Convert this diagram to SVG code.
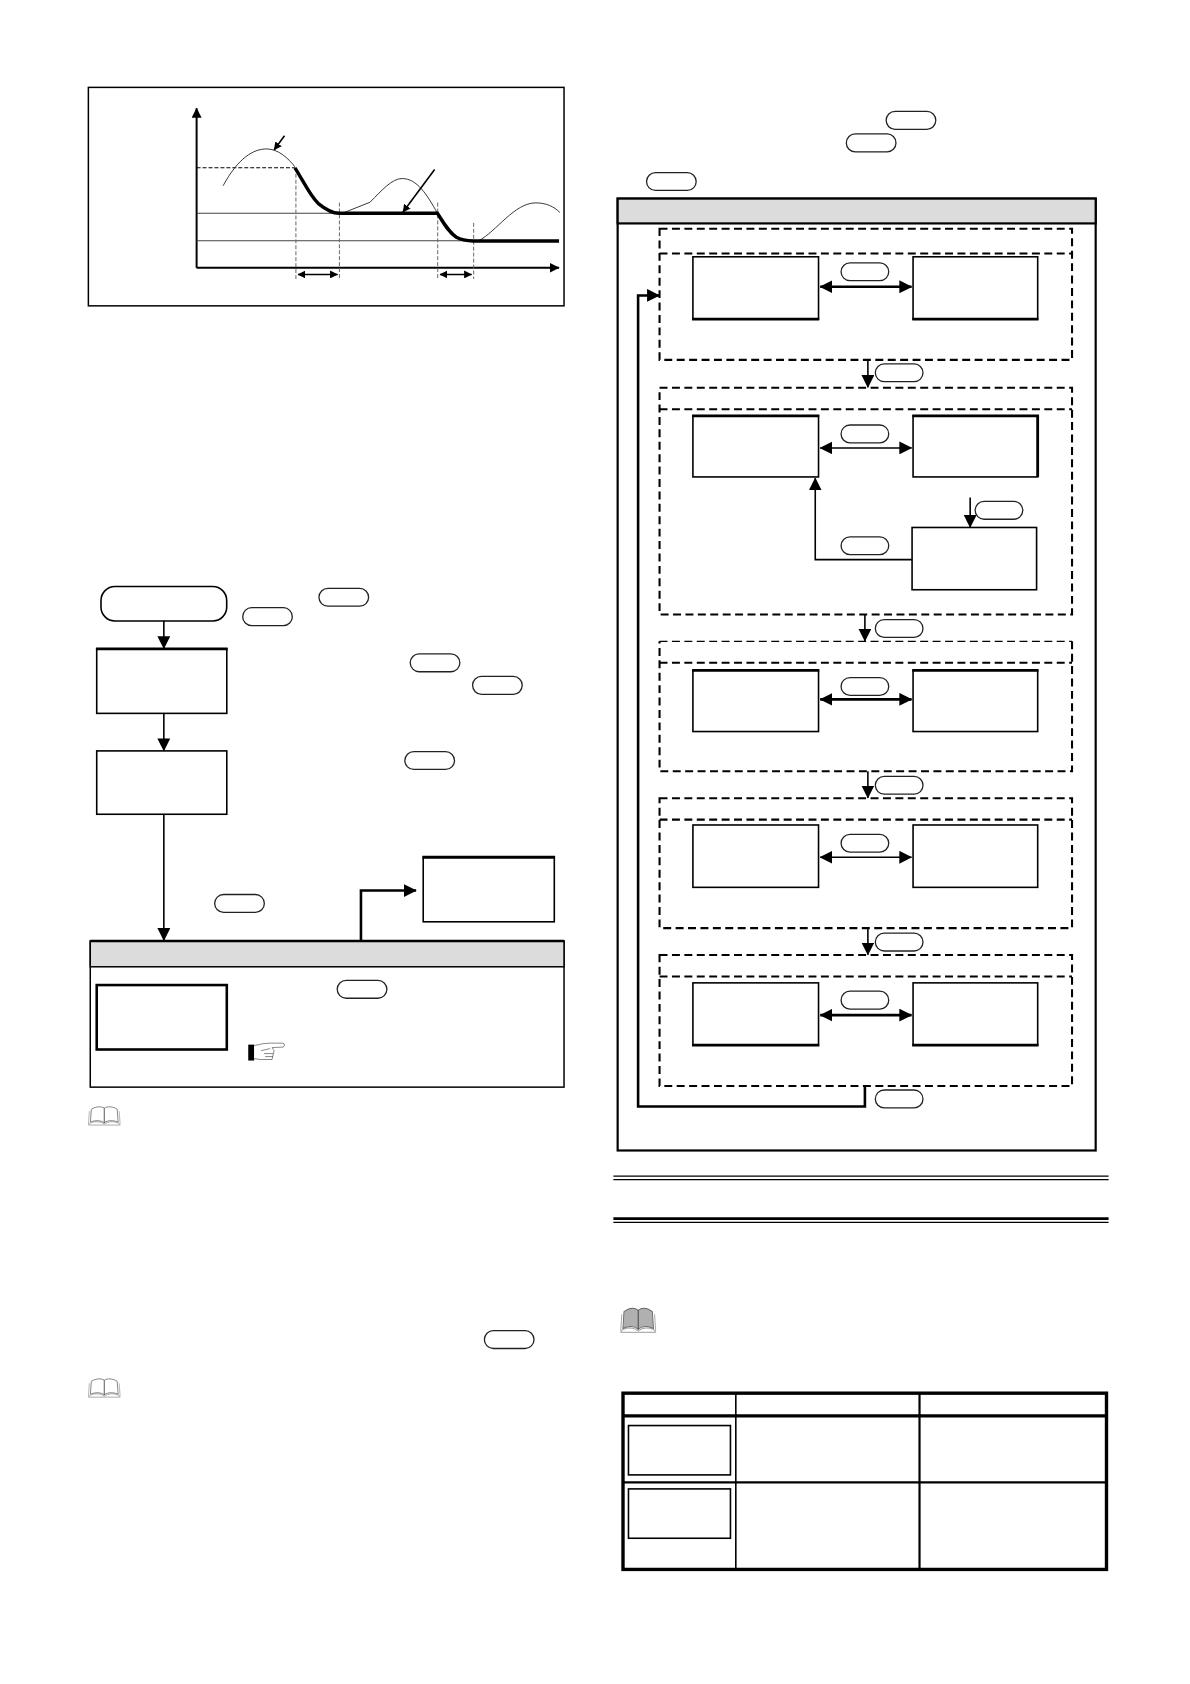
<svg xmlns="http://www.w3.org/2000/svg" width="1190" height="1684" viewBox="0 0 1190 1684">
<style>
.box{fill:#fff;stroke:#000;stroke-width:1.6}
.thick{fill:#fff;stroke:#000;stroke-width:2.6}
.pill{fill:#fff;stroke:#222;stroke-width:1.3}
.dash{fill:none;stroke:#000;stroke-width:2.1;stroke-dasharray:8 4.500}
.dash-thin{fill:none;stroke:#000;stroke-width:1.3;stroke-dasharray:8 4.500}
.head{fill:#dcdcdc;stroke:#000;stroke-width:1.5}
.con{fill:none;stroke:#000;stroke-width:1.6}
.conb{fill:none;stroke:#000;stroke-width:2.6}
.axis{fill:none;stroke:#000;stroke-width:2}
.vd{fill:none;stroke:#666;stroke-width:1;stroke-dasharray:4 2}
.thin{fill:none;stroke:#222;stroke-width:.9}
.hl{stroke:#444;stroke-width:1.1}
.edge{stroke:#000;stroke-width:2.8;fill:none}
</style>
<defs>
<marker id="a" viewBox="0 0 10 10" refX="9.500" refY="5" markerWidth="13" markerHeight="13" markerUnits="userSpaceOnUse" orient="auto-start-reverse"><path d="M0 0L10 5L0 10z" fill="#000"/></marker>
<marker id="m" viewBox="0 0 10 10" refX="9.500" refY="5" markerWidth="10" markerHeight="10" markerUnits="userSpaceOnUse" orient="auto-start-reverse"><path d="M0 0L10 5L0 10z" fill="#000"/></marker>
<marker id="s" viewBox="0 0 10 10" refX="9.500" refY="5" markerWidth="8" markerHeight="8" markerUnits="userSpaceOnUse" orient="auto-start-reverse"><path d="M0 0L10 5L0 10z" fill="#000"/></marker>
<g id="book">
<path d="M2 17.500C6 15 13 15 17 18C21 15 28 15 32 17.500L33 19L1 19z" fill="#fff" stroke="#888" stroke-width=".7"/>
<path d="M4 3C9 0 14 0 17 2C20 0 25 0 30 3L31 16C26 14 21 14 17 16.500C13 14 8 14 3 16z" fill="inherit" stroke="#666" stroke-width=".8"/>
<path d="M17 2V17" stroke="#444" stroke-width=".9" fill="none"/>
<path d="M2 5L1 18M32 5L33 18" stroke="#999" stroke-width=".7" fill="none"/>
</g>
</defs>
<g id="page" transform="scale(.993)">

<rect id="chart-frame" x="89" y="88" width="479" height="220" fill="#fff" stroke="#000" stroke-width="1.500"/>
<g id="chart" transform="translate(0 1)">
<path class="axis" d="M198 268.700V108" marker-end="url(#m)"/>
<path class="axis" d="M198 268.700H563" marker-end="url(#m)"/>
<path class="hl" d="M198 213.700H341M198 241.500H477"/>
<path d="M198 168H297" fill="none" stroke="#000" stroke-width="1.100" stroke-dasharray="4 2"/>
<path class="vd" d="M298 168V280M341.800 203V280M440.800 203V280M477 223.400V280"/>
<path class="thin" d="M224.700 186C240 158 255 149 268.500 149C280 149 290 158 297 167"/>
<path class="thin" d="M345 213.700L372.700 202.600C385 190 395 178.800 405 178.800C420 178.800 430 195 440.500 213.700"/>
<path class="thin" d="M482 241.500C500 232 518 203.300 539.500 203.300C550 203.300 558 207 563.800 213"/>
<path d="M297 168C306 182 312 196 320.600 204C328 210 335 213.700 341.500 213.700H440.500C447 224 452 233 459.600 237.900C465 241 471 241.500 477 241.700H563" fill="none" stroke="#000" stroke-width="3.400"/>
<path class="con" d="M300 275.400H340" marker-start="url(#s)" marker-end="url(#s)"/>
<path class="con" d="M443 275.400H475" marker-start="url(#s)" marker-end="url(#s)"/>
<path d="M286.500 135.800L276 150" class="con" stroke-width="1" marker-end="url(#s)"/>
<path d="M437.700 169.700L405.700 212.700" class="con" stroke-width="1" marker-end="url(#s)"/>
</g>

<g id="flow-left">
<g id="n-start"><rect class="box" x="101.700" y="590.700" width="126.600" height="34.600" rx="14"/></g>
<g id="n-a"><rect class="box" x="97.400" y="653.400" width="131" height="65"/><path class="edge" d="M96.600 653.400H229.200"/></g>
<g id="n-b"><rect class="box" x="97.400" y="756.200" width="131" height="63.800"/></g>
<g id="n-c"><rect class="box" x="426.200" y="863.300" width="132" height="65"/><path class="edge" d="M425.400 863.300H559"/></g>
<g id="panel-left">
<rect x="90.900" y="947.700" width="477.100" height="147.100" fill="#fff" stroke="#000" stroke-width="1.500"/>
<rect class="head" x="90.900" y="947.700" width="477.100" height="25.900"/>
<path d="M90.900 947.700H568" stroke="#000" stroke-width="2.600"/>
</g>
<g id="n-d"><rect class="thick" x="97.400" y="992" width="131" height="64.900"/></g>
<g id="hand">
<rect x="250" y="1052" width="6" height="16" fill="#000"/>
<path d="M256 1053L265 1051L272 1050.500H285C287 1051 287 1054 285 1054.500L274 1055L276 1058L274 1067H262L256 1066M263 1058L272 1056M266 1061H275M267 1064H275" fill="#fff" stroke="#555" stroke-width=".7"/>
</g>
</g>

<g id="pills-left">
<rect class="pill" x="321.200" y="592.500" width="50" height="18" rx="9"/>
<rect class="pill" x="244.400" y="612" width="50" height="18" rx="9"/>
<rect class="pill" x="413.100" y="658.500" width="50" height="18" rx="9"/>
<rect class="pill" x="475.900" y="681.200" width="50" height="18" rx="9"/>
<rect class="pill" x="407.700" y="756.900" width="50" height="18" rx="9"/>
<rect class="pill" x="216.200" y="900.800" width="50" height="18" rx="9"/>
<rect class="pill" x="339.600" y="987.300" width="50" height="18" rx="9"/>
<rect class="pill" x="487.800" y="1340" width="50" height="18" rx="9"/>
</g>

<g id="books">
<use href="#book" x="88" y="1114" fill="#fff"/>
<use href="#book" x="88" y="1388" fill="#fff"/>
<use href="#book" transform="translate(624 1317) scale(1.100 1.300)" fill="#b0b0b0"/>
</g>

<g id="panel-right">
<rect x="622" y="200" width="481.400" height="958.600" fill="#fff" stroke="#000" stroke-width="2.200"/>
<rect x="622" y="200" width="481.400" height="25" fill="#dcdcdc" stroke="#000" stroke-width="2.200"/>
</g>

<g id="group1"><rect class="dash" x="664.200" y="230.400" width="415.400" height="132"/><path class="dash" d="M664.200 255.300H1079.600"/></g>
<g id="group2"><rect class="dash" x="664.200" y="390.500" width="415.400" height="228.300"/><path class="dash" d="M664.200 412.200H1079.600"/></g>
<g id="group3"><path class="dash-thin" d="M664.200 645.800H1079.600"/><path class="dash" d="M1079.600 645.800V776.700H664.200V645.800"/><path class="dash" d="M664.200 667.500H1079.600"/></g>
<g id="group4"><rect class="dash" x="664.200" y="803.800" width="415.400" height="130.900"/><path class="dash" d="M664.200 825.400H1079.600"/></g>
<g id="group5"><rect class="dash" x="664.200" y="961.700" width="415.400" height="132"/><path class="dash" d="M664.200 983.400H1079.600"/></g>

<g id="boxes-right">
<g id="r1a"><rect class="box" x="697.800" y="258.600" width="126.500" height="62.700"/><path class="edge" d="M697 321.300H825"/></g>
<g id="r1b"><rect class="box" x="919.500" y="258.600" width="125.500" height="62.700"/><path class="edge" d="M918.700 321.300H1045.800"/></g>
<g id="r2a"><rect class="box" x="697.800" y="418.700" width="126.500" height="61.600"/><path class="edge" d="M697 418.700H825"/></g>
<g id="r2b"><rect class="box" x="919.500" y="418.700" width="125.500" height="61.600"/><path class="edge" d="M918.700 418.700H1045V480.300"/></g>
<g id="r2c"><rect class="box" x="918.500" y="531.200" width="125.400" height="62.700"/></g>
<g id="r3a"><rect class="box" x="697.800" y="675" width="126.500" height="61.700"/><path class="edge" d="M697 675H825"/></g>
<g id="r3b"><rect class="box" x="919.500" y="675" width="125.500" height="61.700"/><path class="edge" d="M918.700 675H1045.800"/></g>
<g id="r4a"><rect class="box" x="697.800" y="830.800" width="126.500" height="62.800"/></g>
<g id="r4b"><rect class="box" x="919.500" y="830.800" width="125.500" height="62.800"/></g>
<g id="r5a"><rect class="box" x="697.800" y="989.800" width="126.500" height="62.800"/><path class="edge" d="M697 1052.600H825"/></g>
<g id="r5b"><rect class="box" x="919.500" y="989.800" width="125.500" height="62.800"/><path class="edge" d="M918.700 1052.600H1045.800"/></g>
</g>

<g id="connectors">
<path class="con" d="M165 625V653" marker-end="url(#a)"/>
<path class="con" d="M165 718V756" marker-end="url(#a)"/>
<path class="con" d="M165 820V947" marker-end="url(#a)"/>
<path class="conb" d="M363.500 947V896.800H419" marker-end="url(#a)"/>
<path class="conb" d="M826 288.800H918" marker-start="url(#a)" marker-end="url(#a)"/>
<path class="con" d="M826 451.100H918" marker-start="url(#a)" marker-end="url(#a)"/>
<path class="conb" d="M826 704.300H918" marker-start="url(#a)" marker-end="url(#a)"/>
<path class="con" d="M826 863.300H918" marker-start="url(#a)" marker-end="url(#a)"/>
<path class="conb" d="M826 1022.300H918" marker-start="url(#a)" marker-end="url(#a)"/>
<path class="con" d="M874 362.400V390" marker-end="url(#a)"/>
<path class="con" d="M871 618.800V645.500" marker-end="url(#a)"/>
<path class="con" d="M874 776.700V803.500" marker-end="url(#a)"/>
<path class="con" d="M874 934.700V961.500" marker-end="url(#a)"/>
<path class="con" d="M977 501V531" marker-end="url(#a)"/>
<path class="con" d="M918.500 563.600H821V481.500" marker-end="url(#a)"/>
<path class="conb" d="M871 1093.700V1114.300H642.600V297.500H664" marker-end="url(#a)"/>
</g>

<g id="pills-right">
<rect class="pill" x="892.400" y="112.200" width="50" height="18" rx="9"/>
<rect class="pill" x="852.300" y="134.900" width="50" height="18" rx="9"/>
<rect class="pill" x="651.100" y="173.800" width="50" height="18" rx="9"/>
<rect class="pill" x="847" y="264.700" width="48" height="18" rx="9"/>
<rect class="pill" x="881.500" y="366.400" width="48" height="18" rx="9"/>
<rect class="pill" x="847" y="428" width="48" height="18" rx="9"/>
<rect class="pill" x="982" y="504.900" width="48" height="18" rx="9"/>
<rect class="pill" x="847" y="540.600" width="48" height="18" rx="9"/>
<rect class="pill" x="881.500" y="623.900" width="48" height="18" rx="9"/>
<rect class="pill" x="847" y="682.300" width="48" height="18" rx="9"/>
<rect class="pill" x="881.500" y="781.800" width="48" height="18" rx="9"/>
<rect class="pill" x="847" y="840.200" width="48" height="18" rx="9"/>
<rect class="pill" x="881.500" y="939.700" width="48" height="18" rx="9"/>
<rect class="pill" x="847" y="998.200" width="48" height="18" rx="9"/>
<rect class="pill" x="881.500" y="1097.700" width="48" height="18" rx="9"/>
</g>

<g id="rules">
<path d="M617.700 1184.500H1116.400M617.700 1188H1116.400" stroke="#000" stroke-width="1.300"/>
<path d="M617.700 1227.300H1116.400" stroke="#000" stroke-width="2.800"/>
<path d="M617.700 1231H1116.400" stroke="#000" stroke-width="1.300"/>
</g>

<g id="table">
<rect x="627.400" y="1403" width="486.900" height="177.500" fill="#fff" stroke="#000" stroke-width="3.400"/>
<path d="M627.400 1425.800H1114.300" stroke="#000" stroke-width="3.400"/>
<path d="M627.400 1492.900H1114.300" stroke="#000" stroke-width="2.200"/>
<path d="M741 1403V1580.500" stroke="#000" stroke-width="1.600"/>
<path d="M926 1403V1580.500" stroke="#000" stroke-width="2.200"/>
<g id="t1"><rect class="box" x="632.900" y="1435.600" width="102.700" height="49.700"/></g>
<g id="t2"><rect class="box" x="632.900" y="1499.400" width="102.700" height="49.700"/></g>
</g>
</g>
</svg>
